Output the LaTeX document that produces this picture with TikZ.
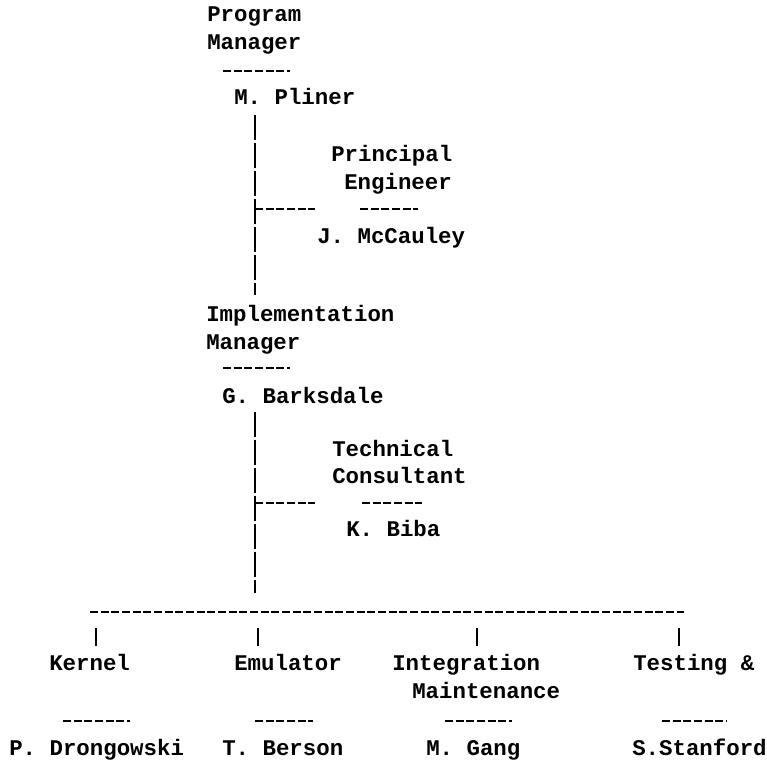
\documentclass[tikz,border=0pt]{standalone}
\usepackage{fontspec}
\setmonofont{Liberation Mono}
\tikzset{
  tw/.style={font=\ttfamily\bfseries\fontsize{16.8}{20}\selectfont, inner sep=0pt, anchor=base west},
  uline/.style={line width=1.8pt, dash pattern=on 6pt off 2pt},
  hline/.style={line width=1.8pt, dash pattern=on 6pt off 2pt},
  vline/.style={line width=1.1pt, dash pattern=on 18.5pt off 2.5pt}
}

\begin{document}
\begin{tikzpicture}[x=0.75pt, y=-0.75pt]
  \useasboundingbox (0,0) rectangle (767,764);

  % program manager
  \node[tw] (pgmA) at (207,21) {Program};
  \node[tw] (pgmB) at (207,49) {Manager};
  \draw[uline] (223,71) -- (290,71);
  \node[tw] (pliner) at (234,104) {M. Pliner};

  % principal engineer
  \node[tw] (prinA) at (331,161) {Principal};
  \node[tw] (prinB) at (344,189) {Engineer};
  \draw[uline] (360,209) -- (418,209);
  \node[tw] (mccauley) at (317,243) {J. McCauley};

  % implementation manager
  \node[tw] (implA) at (206,321) {Implementation};
  \node[tw] (implB) at (206,349) {Manager};
  \draw[uline] (223,368) -- (290,368);
  \node[tw] (barksdale) at (222,403) {G. Barksdale};

  % technical consultant
  \node[tw] (techA) at (332,456) {Technical};
  \node[tw] (techB) at (332,483) {Consultant};
  \draw[uline] (362,503) -- (422,503);
  \node[tw] (biba) at (346,536) {K. Biba};

  % groups
  \node[tw] (kernel) at (49,670) {Kernel};
  \node[tw] (emul) at (234,670) {Emulator};
  \node[tw] (integ) at (392,670) {Integration};
  \node[tw] (maint) at (412,698) {Maintenance};
  \node[tw] (test) at (633,670) {Testing \&};
  \draw[uline] (63,721) -- (130,721);
  \draw[uline] (255,721) -- (313,721);
  \draw[uline] (445,721) -- (512,721);
  \draw[uline] (662,721) -- (727,721);
  \node[tw] (drong) at (9,755) {P. Drongowski};
  \node[tw] (berson) at (222,755) {T. Berson};
  \node[tw] (gang) at (426,755) {M. Gang};
  \node[tw] (stanford) at (632,755) {S.Stanford};

  % connectors
  \coordinate (spine) at (255,0);
  \coordinate (engtap) at (315,209);
  \coordinate (bibatap) at (315,503);
  \coordinate (busL) at (90,612);
  \coordinate (busR) at (684,612);

  \draw[vline, shorten <=8pt, shorten >=7.5pt] (pliner.south -| spine) -- (implA.north -| spine);
  \draw[hline] (engtap -| spine) -- (engtap);
  \draw[vline, shorten <=6.5pt, shorten >=14pt] (barksdale.south -| spine) -- (spine |- busL);
  \draw[hline] (bibatap -| spine) -- (bibatap);
  \draw[hline] (busL) -- (busR);
  \foreach \n/\x in {kernel/96, emul/258, integ/477, test/679}
    \draw[vline, shorten <=12pt, shorten >=6pt] (\x,612) -- (\n.north -| \x,612);
\end{tikzpicture}
\end{document}
